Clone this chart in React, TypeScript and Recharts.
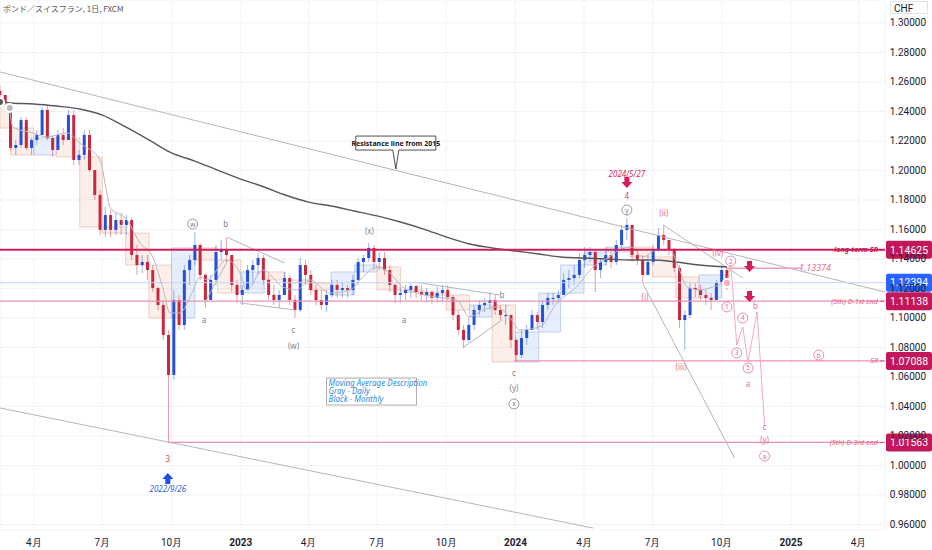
import React from 'react'
import {
  ComposedChart,
  Bar,
  Line,
  XAxis,
  YAxis,
  CartesianGrid,
  ReferenceLine,
  ReferenceArea,
  ReferenceDot,
} from 'recharts'

const FONT = '"Noto Sans", "Noto Sans CJK JP", Inter, sans-serif'
const AXIS_FONT = 'Roboto, "Noto Sans", sans-serif'
const UP = '#2450d8'
const DOWN = '#c8283e'
const PINK = '#c2185b'
const LIGHT_PINK = '#ec8fb0'
const GRAY_TXT = '#80838c'

// days counted from 2022-01-01, weekly candles from 2022-02-14
const firstDay = 45
const firstOpen = 1.254
const highs = [
  1.258, 1.2512, 1.2458, 1.2207, 1.2363, 1.2363, 1.222, 1.2275, 1.2431, 1.2444, 1.2241, 1.2275, 1.2288, 1.241,
  1.241, 1.2139, 1.2275, 1.2275, 1.2003, 1.1868, 1.1753, 1.1732, 1.1712, 1.1712, 1.1698, 1.168, 1.1495, 1.1427,
  1.1427, 1.1359, 1.121, 1.1122, 1.0919, 1.119, 1.1156, 1.1359, 1.1427, 1.1583, 1.1508, 1.1305, 1.1292, 1.1495,
  1.1529, 1.1542, 1.1427, 1.1258, 1.1224, 1.1359, 1.1393, 1.1441, 1.1427, 1.1292, 1.1224, 1.119, 1.1312, 1.1292,
  1.1156, 1.1407, 1.1393, 1.1325, 1.1224, 1.119, 1.119, 1.1258, 1.1258, 1.1244, 1.1224, 1.1292, 1.1407, 1.1427,
  1.1508, 1.1495, 1.1447, 1.1447, 1.1359, 1.1237, 1.121, 1.1224, 1.1237, 1.1224, 1.1224, 1.1203, 1.119, 1.121,
  1.1224, 1.1224, 1.1156, 1.1054, 1.0953, 1.1, 1.1088, 1.1122, 1.1136, 1.1176, 1.1156, 1.1088, 1.1088, 1.102,
  1.0864, 1.0919, 1.0953, 1.1054, 1.1041, 1.1122, 1.1169, 1.1169, 1.119, 1.1305, 1.1325, 1.1359, 1.1441, 1.1481,
  1.1481, 1.1461, 1.1407, 1.1481, 1.1447, 1.1529, 1.1631, 1.1678, 1.1631, 1.1461, 1.1427, 1.1427, 1.1495, 1.161,
  1.1631, 1.1529, 1.1475, 1.1359, 1.1054, 1.1237, 1.1237, 1.1224, 1.119, 1.1169, 1.1258, 1.1359, 1.1339,
]
const lows = [
  1.2478, 1.2444, 1.2139, 1.2105, 1.2153, 1.2139, 1.2105, 1.2173, 1.2241, 1.2207, 1.2092, 1.2139, 1.2173, 1.2207,
  1.2037, 1.2037, 1.2071, 1.199, 1.18, 1.1563, 1.1549, 1.1549, 1.1563, 1.1563, 1.1563, 1.1393, 1.1292, 1.1305,
  1.1258, 1.1176, 1.1054, 1.0851, 1.0156, 1.058, 1.0919, 1.0919, 1.1224, 1.1359, 1.1258, 1.1068, 1.1122, 1.1224,
  1.1393, 1.138, 1.1176, 1.1102, 1.1088, 1.119, 1.1224, 1.1292, 1.1224, 1.1122, 1.1088, 1.1068, 1.1156, 1.1088,
  1.1, 1.1041, 1.1224, 1.1156, 1.1088, 1.1054, 1.1041, 1.1136, 1.1136, 1.1136, 1.1136, 1.1156, 1.1224, 1.1312,
  1.138, 1.1325, 1.1325, 1.1292, 1.1176, 1.1102, 1.1102, 1.1122, 1.1136, 1.1136, 1.1122, 1.1108, 1.1095, 1.1102,
  1.1108, 1.1122, 1.0986, 1.0885, 1.0797, 1.0837, 1.0919, 1.102, 1.1041, 1.1054, 1.102, 1.0986, 1.0953, 1.0797,
  1.0702, 1.0729, 1.0817, 1.0919, 1.0919, 1.0932, 1.1054, 1.1088, 1.1102, 1.1156, 1.1203, 1.1224, 1.1271, 1.1339,
  1.138, 1.1176, 1.1271, 1.1359, 1.1339, 1.1359, 1.1461, 1.1529, 1.138, 1.1359, 1.1237, 1.1292, 1.1359, 1.1447,
  1.1495, 1.1427, 1.1312, 1.0932, 1.0783, 1.1, 1.1142, 1.1122, 1.1088, 1.1054, 1.1122, 1.1224, 1.119,
]
const closes = [
  1.2512, 1.2458, 1.2153, 1.2173, 1.2342, 1.2153, 1.2207, 1.2241, 1.241, 1.222, 1.2139, 1.2241, 1.2207, 1.2376,
  1.2071, 1.2105, 1.2241, 1.2003, 1.1834, 1.1597, 1.1698, 1.1597, 1.1664, 1.1631, 1.1664, 1.1427, 1.1359, 1.138,
  1.1325, 1.1203, 1.1088, 1.0885, 1.0614, 1.1122, 1.0953, 1.1325, 1.1393, 1.1495, 1.1292, 1.1122, 1.1258, 1.1447,
  1.1461, 1.1427, 1.1224, 1.1156, 1.119, 1.1325, 1.1359, 1.1407, 1.1258, 1.1156, 1.1122, 1.1156, 1.1271, 1.1122,
  1.1054, 1.1359, 1.1292, 1.119, 1.1122, 1.1088, 1.1156, 1.1224, 1.119, 1.1203, 1.119, 1.1258, 1.138, 1.1407,
  1.1475, 1.138, 1.1407, 1.1325, 1.1224, 1.1156, 1.1169, 1.119, 1.1217, 1.1176, 1.1156, 1.1176, 1.1136, 1.1169,
  1.119, 1.1142, 1.102, 1.0919, 1.0851, 1.0953, 1.1054, 1.1088, 1.1102, 1.1122, 1.1054, 1.102, 1.102, 1.0851,
  1.0749, 1.0864, 1.0919, 1.102, 1.0973, 1.1088, 1.1136, 1.1136, 1.1156, 1.1258, 1.1271, 1.1292, 1.1393, 1.1427,
  1.1447, 1.1325, 1.138, 1.1427, 1.138, 1.1495, 1.1597, 1.1631, 1.1427, 1.1393, 1.1292, 1.138, 1.1461, 1.1563,
  1.1529, 1.1461, 1.1339, 1.0986, 1.102, 1.1203, 1.119, 1.1156, 1.1136, 1.1122, 1.1237, 1.1325, 1.12394,
]

// monthly candle bodies drawn as boxes
const monthStarts = [
  45, 59, 90, 120, 151, 181, 212, 243, 273, 304, 334, 365, 396, 424, 455, 485, 516, 546, 577, 608, 638, 669, 699,
  730, 761, 790, 821, 851, 882, 912, 943, 974, 1004,
]
const monthEnd = 1013
const monthOpens = [
  1.2458, 1.2288, 1.2105, 1.222, 1.2092, 1.1617, 1.1576, 1.1359, 1.1, 1.1475, 1.1393, 1.1169, 1.1312, 1.1258,
  1.1237, 1.1156, 1.1312, 1.1346, 1.119, 1.1176, 1.1156, 1.1007, 1.1088, 1.0702, 1.0905, 1.1169, 1.1359, 1.1447,
  1.1481, 1.1414, 1.1278, 1.1136, 1.1292,
]
const monthCloses = [
  1.2288, 1.2105, 1.222, 1.2092, 1.1617, 1.1576, 1.1359, 1.1, 1.1475, 1.1393, 1.1169, 1.1312, 1.1258, 1.1237,
  1.119, 1.1312, 1.1359, 1.119, 1.1176, 1.1156, 1.1054, 1.1088, 1.0702, 1.0905, 1.1169, 1.1359, 1.1447, 1.1481,
  1.1414, 1.1278, 1.1136, 1.1292, 1.1239,
]

// moving averages
const blackMaDays = [45, 59, 90, 120, 151, 181, 212, 243, 273, 304, 334, 365, 396, 424, 455, 485, 516, 546, 577, 608, 638, 669, 699, 730, 761, 790, 821, 851, 882, 912, 943, 974, 1011]
const blackMaValues = [
  1.2464, 1.2458, 1.2451, 1.2437, 1.2417, 1.2376, 1.2295, 1.2207, 1.2119, 1.2064, 1.2003, 1.1942, 1.1888, 1.1834,
  1.1786, 1.1759, 1.1725, 1.1692, 1.1651, 1.1603, 1.1549, 1.1502, 1.1475, 1.1454, 1.1434, 1.1414, 1.1407, 1.14,
  1.1393, 1.1393, 1.138, 1.1359, 1.1346,
]
const grayMaDays = [
  58, 62, 89, 107, 134, 151, 178, 187, 191, 214, 231, 248, 261, 271, 284, 300, 311, 320, 346, 364, 373, 394, 421,
  439, 457, 483, 510, 527, 546, 563, 580, 599, 625, 652, 669, 687, 705, 722, 736, 762, 785, 811, 833, 855, 868, 885,
  899, 918, 935, 948, 958, 975, 992, 1011,
]
const grayMaValues = [
  1.2424, 1.2295, 1.2254, 1.2227, 1.2254, 1.2186, 1.2071, 1.1847, 1.1753, 1.1664, 1.1508, 1.1414, 1.121, 1.1034,
  1.1034, 1.1169, 1.1278, 1.1258, 1.1393, 1.1305, 1.119, 1.1325, 1.121, 1.119, 1.1258, 1.1169, 1.119, 1.1278,
  1.1346, 1.1305, 1.121, 1.1169, 1.1142, 1.1122, 1.1007, 1.1054, 1.1075, 1.1007, 1.0919, 1.0939, 1.1102, 1.121,
  1.1346, 1.1414, 1.1461, 1.1481, 1.1414, 1.1461, 1.1461, 1.1325, 1.121, 1.119, 1.121, 1.1237,
]

// projected wave path
const projDays = [1011, 1016, 1024, 1032, 1039, 1051, 1061]
const projValues = [1.1237, 1.138, 1.0817, 1.0939, 1.0702, 1.1041, 1.0275]

// key levels
const longTermSR = 1.14625
const firstEnd = 1.11138
const srLevel = 1.07088
const thirdEnd = 1.01563
const upperProj = 1.13374
const lastPrice = 1.12394

// trend lines [day1, price1, day2, price2]
const trendLines = [
  [45, 1.2668, 1221, 1.1176],
  [45, 1.039, 833, 0.9576],
  [899, 1.1237, 1021, 1.0051],
  [926, 1.1631, 1032, 1.1271],
  [317, 1.1102, 348, 1.1393],
  [346, 1.1549, 423, 1.1373],
  [364, 1.1102, 437, 1.1054],
  [596, 1.1244, 709, 1.1156],
  [660, 1.0797, 712, 1.0986],
]

// wave labels: day, price, text, style
const waveLabels: [number, number, string, string][] = [
  [301, 1.1637, 'w', 'circleGray'],
  [345, 1.1637, 'b', 'gray'],
  [316, 1.0986, 'a', 'gray'],
  [435, 1.0919, 'c', 'gray'],
  [435, 1.081, '(w)', 'gray'],
  [536, 1.159, '(x)', 'gray'],
  [582, 1.0986, 'a', 'gray'],
  [712, 1.1156, 'b', 'gray'],
  [728, 1.0627, 'c', 'gray'],
  [728, 1.0525, '(y)', 'gray'],
  [728, 1.0417, 'x', 'circleGray'],
  [878, 1.1827, '4', 'red'],
  [878, 1.1732, 'y', 'circleGray'],
  [268, 1.0044, '3', 'red'],
  [927, 1.1712, '(ii)', 'pink'],
  [902, 1.1142, '(i)', 'pink'],
  [950, 1.0668, '(iii)', 'pink'],
  [999, 1.1441, '(iv)', 'pink'],
  [1011, 1.1075, '1', 'circlePink'],
  [1016, 1.1386, '2', 'circlePink'],
  [1024, 1.0763, '3', 'circlePink'],
  [1032, 1.1, '4', 'circlePink'],
  [1039, 1.0661, '5', 'circlePink'],
  [1039, 1.0553, 'a', 'pink'],
  [1049, 1.1081, 'b', 'pink'],
  [1061, 1.0261, 'c', 'pink'],
  [1061, 1.0173, '(y)', 'pink'],
  [1061, 1.0064, 'a', 'circlePink'],
  [1133, 1.0749, 'b', 'circlePink'],
]

const xTicks = [90, 181, 273, 365, 455, 546, 638, 730, 821, 912, 1004, 1096, 1186]
const xLabels = ['4月', '7月', '10月', '2023', '4月', '7月', '10月', '2024', '4月', '7月', '10月', '2025', '4月']
const yTicks = [0.96, 0.98, 1.0, 1.02, 1.04, 1.06, 1.08, 1.1, 1.12, 1.14, 1.16, 1.18, 1.2, 1.22, 1.24, 1.26, 1.28, 1.3]

const candles = closes.map((c, i) => {
  const open = i === 0 ? firstOpen : closes[i - 1]
  return { day: firstDay + 7 * i, open, close: c, high: highs[i], low: lows[i], range: [lows[i], highs[i]] }
})
const blackMa = blackMaDays.map((d, i) => ({ day: d, v: blackMaValues[i] }))
const grayMa = grayMaDays.map((d, i) => ({ day: d, v: grayMaValues[i] }))
const projection = projDays.map((d, i) => ({ day: d, v: projValues[i] }))

const Candle = (props: any) => {
  const { x, y, width, height, payload } = props
  if (x == null || !payload) return null
  const top = Math.min(y, y + height)
  const h = Math.abs(height)
  const { open, close, high, low } = payload
  const span = high - low || 1e-9
  const pix = (v: number) => top + ((high - v) / span) * h
  const color = close >= open ? UP : DOWN
  const cx = x + width / 2
  const b1 = pix(Math.max(open, close))
  const b2 = pix(Math.min(open, close))
  return (
    <g>
      <line x1={cx} x2={cx} y1={top} y2={top + h} stroke={color} strokeOpacity={0.45} strokeWidth={1} />
      <rect x={cx - 1.5} y={b1} width={3} height={Math.max(1, b2 - b1)} fill={color} />
    </g>
  )
}

const XTick = (props: any) => {
  const { x, y, payload } = props
  const label = xLabels[xTicks.indexOf(payload.value)] ?? ''
  const isYear = /^\d{4}$/.test(label)
  return (
    <text x={x} y={y + 8} textAnchor="middle" fontSize={10} fontWeight={isYear ? 700 : 400} fill="#1c2030" fontFamily={AXIS_FONT}>
      {label}
    </text>
  )
}

const YTick = (props: any) => {
  const { y, payload } = props
  return (
    <text x={926} y={y + 3.5} textAnchor="end" fontSize={10} fill="#1c2030" fontFamily={AXIS_FONT}>
      {payload.value.toFixed(5)}
    </text>
  )
}

const tagShape = (text: string, bg: string, side?: string, bold?: boolean) => (p: any) => (
  <g>
    {side && (
      <text x={p.cx - 7} y={p.cy + 2.5} textAnchor="end" fontSize={7.2} fontStyle="italic" fontWeight={bold ? 700 : 400} fill={bold ? PINK : '#e0608a'} fontFamily={FONT}>
        {side}
      </text>
    )}
    {side && <line x1={p.cx - 5} x2={p.cx - 1} y1={p.cy} y2={p.cy} stroke={bold ? PINK : '#e0608a'} />}
    <rect x={p.cx + 1} y={p.cy - 9} width={46} height={18} rx={2} fill={bg} />
    <text x={p.cx + 24} y={p.cy + 3.8} textAnchor="middle" fontSize={10.5} fill="#fff" fontFamily={AXIS_FONT}>
      {text}
    </text>
  </g>
)

const labelShape = (text: string, style: string) => (p: any) => {
  const { cx, cy } = p
  if (style.startsWith('circle')) {
    const c = style === 'circlePink' ? '#e5709a' : GRAY_TXT
    return (
      <g>
        <circle cx={cx} cy={cy} r={5} fill="#fff" stroke={c} strokeWidth={0.8} />
        <text x={cx} y={cy + 2.5} textAnchor="middle" fontSize={7} fill={c} fontFamily={FONT}>
          {text}
        </text>
      </g>
    )
  }
  const color = style === 'pink' ? '#e5709a' : style === 'red' ? '#d9385e' : GRAY_TXT
  return (
    <text x={cx} y={cy + 3} textAnchor="middle" fontSize={8} fill={color} fontFamily={FONT}>
      {text}
    </text>
  )
}

const arrowShape = (color: string, dir: 'down' | 'up') => (p: any) => {
  const { cx, cy } = p
  const s = dir === 'down' ? 1 : -1
  const d = `M ${cx - 2.5} ${cy - 6 * s} L ${cx + 2.5} ${cy - 6 * s} L ${cx + 2.5} ${cy - 1 * s} L ${cx + 5.5} ${cy - 1 * s} L ${cx} ${cy + 5 * s} L ${cx - 5.5} ${cy - 1 * s} L ${cx - 2.5} ${cy - 1 * s} Z`
  return <path d={d} fill={color} />
}

const textShape = (text: string, color: string, size = 8) => (p: any) => (
  <text x={p.cx} y={p.cy + 3} textAnchor="middle" fontSize={size} fontStyle="italic" fill={color} fontFamily={FONT}>
    {text}
  </text>
)

const resistanceBox = (p: any) => {
  const { cx, cy } = p
  return (
    <g>
      <path
        d={`M ${cx - 40} ${cy - 7} H ${cx + 40} V ${cy + 7} H ${cx + 3} L ${cx} ${cy + 26} L ${cx - 3} ${cy + 7} H ${cx - 40} Z`}
        fill="#fff"
        stroke="#222"
        strokeWidth={0.8}
      />
      <text x={cx} y={cy + 2.5} textAnchor="middle" fontSize={7} fontWeight={700} fill="#131722" fontFamily={FONT}>
        Resistance line from 2015
      </text>
    </g>
  )
}

const maNote = (p: any) => {
  const { cx, cy } = p
  const c = '#2a8de0'
  return (
    <g>
      <rect x={cx} y={cy} width={90} height={27} fill="#fff" stroke="#9a9a9a" strokeWidth={0.8} />
      <text x={cx + 2} y={cy + 8} fontSize={8} fontStyle="italic" fill={c} fontFamily={FONT}>Moving Average Description</text>
      <text x={cx + 2} y={cy + 16} fontSize={8} fontStyle="italic" fill={c} fontFamily={FONT}>Gray - Daily</text>
      <text x={cx + 2} y={cy + 24} fontSize={8} fontStyle="italic" fill={c} fontFamily={FONT}>Black - Monthly</text>
    </g>
  )
}

export default function App() {
  return (
    <div style={{ position: 'relative', width: 932, height: 550, background: '#fff', fontFamily: FONT }}>
      <style>{'body{margin:0}'}</style>
      <ComposedChart width={932} height={550} data={candles} margin={{ top: 0, right: 0, bottom: 0, left: 0 }}>
        <CartesianGrid stroke="#f2f3f5" />
        <XAxis
          dataKey="day"
          type="number"
          domain={[45, 1221]}
          allowDataOverflow
          ticks={xTicks}
          tick={<XTick />}
          axisLine={false}
          tickLine={false}
          height={20}
        />
        <YAxis
          orientation="right"
          type="number"
          domain={[0.95627, 1.31559]}
          allowDataOverflow
          ticks={yTicks}
          tick={<YTick />}
          axisLine={false}
          tickLine={false}
          width={47}
        />

        {monthStarts.map((d, i) => {
          const up = monthCloses[i] >= monthOpens[i]
          return (
            <ReferenceArea
              key={'m' + i}
              x1={d}
              x2={monthStarts[i + 1] ?? monthEnd}
              y1={monthOpens[i]}
              y2={monthCloses[i]}
              fill={up ? '#b9cdf3' : '#f6cdbd'}
              fillOpacity={0.35}
              stroke={up ? '#b3c4e8' : '#ebc4b6'}
              strokeWidth={0.8}
              ifOverflow="hidden"
            />
          )
        })}

        {trendLines.map((t, i) => (
          <ReferenceLine
            key={'t' + i}
            segment={[{ x: t[0], y: t[1] }, { x: t[2], y: t[3] }]}
            stroke="#b4b6bc"
            strokeWidth={1}
            ifOverflow="hidden"
          />
        ))}

        <ReferenceLine y={lastPrice} stroke="#c5d3f3" strokeWidth={1} />
        <ReferenceLine y={firstEnd} stroke={LIGHT_PINK} strokeWidth={1.2} />
        <ReferenceLine segment={[{ x: 728, y: srLevel }, { x: 1221, y: srLevel }]} stroke={LIGHT_PINK} strokeWidth={1.2} />
        <ReferenceLine segment={[{ x: 268, y: thirdEnd }, { x: 1221, y: thirdEnd }]} stroke={LIGHT_PINK} strokeWidth={1.2} />
        <ReferenceLine segment={[{ x: 1011, y: upperProj }, { x: 1111, y: upperProj }]} stroke="#f29bbb" strokeWidth={1.5} />

        <Line data={blackMa} dataKey="v" type="monotone" stroke="#55585f" strokeWidth={1.4} dot={false} isAnimationActive={false} />
        <Line data={grayMa} dataKey="v" type="monotone" stroke="#b8bac0" strokeWidth={1} dot={false} isAnimationActive={false} />

        <Bar dataKey="range" barSize={3} shape={Candle} isAnimationActive={false} />

        <ReferenceLine y={longTermSR} stroke="#d41c5c" strokeWidth={2} />

        <Line data={projection} dataKey="v" type="linear" stroke="#f5a9c4" strokeWidth={1} dot={false} isAnimationActive={false} />

        {waveLabels.map((w, i) => (
          <ReferenceDot key={'w' + i} x={w[0]} y={w[1]} r={0} ifOverflow="visible" shape={labelShape(w[2], w[3])} />
        ))}

        <ReferenceDot x={878} y={1.1976} r={0} ifOverflow="visible" shape={textShape('2024/5/27', '#e0245e')} />
        <ReferenceDot x={878} y={1.1915} r={0} ifOverflow="visible" shape={arrowShape('#d41c5c', 'down')} />
        <ReferenceDot x={1041} y={1.1346} r={0} ifOverflow="visible" shape={arrowShape('#d41c5c', 'down')} />
        <ReferenceDot x={1041} y={1.1142} r={0} ifOverflow="visible" shape={arrowShape('#d41c5c', 'down')} />
        <ReferenceDot x={268} y={0.9915} r={0} ifOverflow="visible" shape={arrowShape('#1e4fe0', 'up')} />
        <ReferenceDot x={268} y={0.9841} r={0} ifOverflow="visible" shape={textShape('2022/9/26', '#2f5fe0')} />
        <ReferenceDot x={1128} y={upperProj} r={0} ifOverflow="visible" shape={textShape('1.13374', '#e5709a', 9)} />
        <ReferenceDot x={571} y={1.2186} r={0} ifOverflow="visible" shape={resistanceBox} />
        <ReferenceDot x={479} y={1.0593} r={0} ifOverflow="visible" shape={maNote} />

        <ReferenceDot x={1221} y={longTermSR} r={0} ifOverflow="visible" shape={tagShape('1.14625', PINK, 'long-term SR', true)} />
        <ReferenceDot x={1221} y={lastPrice} r={0} ifOverflow="visible" shape={tagShape('1.12394', '#2962ff')} />
        <ReferenceDot x={1221} y={firstEnd} r={0} ifOverflow="visible" shape={tagShape('1.11138', PINK, '(5th) D-1st end')} />
        <ReferenceDot x={1221} y={srLevel} r={0} ifOverflow="visible" shape={tagShape('1.07088', PINK, 'SR')} />
        <ReferenceDot x={1221} y={thirdEnd} r={0} ifOverflow="visible" shape={tagShape('1.01563', PINK, '(5th) D-3rd end')} />
      </ComposedChart>
      <div style={{ position: 'absolute', left: 3, top: 3, fontSize: 8, color: '#555', fontFamily: '"Noto Sans CJK JP", sans-serif' }}>
        ポンド／スイスフラン, 1日, FXCM
      </div>
      <div
        style={{
          position: 'absolute',
          left: 890,
          top: 1,
          width: 38,
          height: 13,
          border: '1px solid #e0e3eb',
          fontSize: 10,
          lineHeight: '13px',
          paddingLeft: 3,
          boxSizing: 'border-box',
          color: '#131722',
          fontFamily: AXIS_FONT,
        }}
      >
        CHF
      </div>
    </div>
  )
}
